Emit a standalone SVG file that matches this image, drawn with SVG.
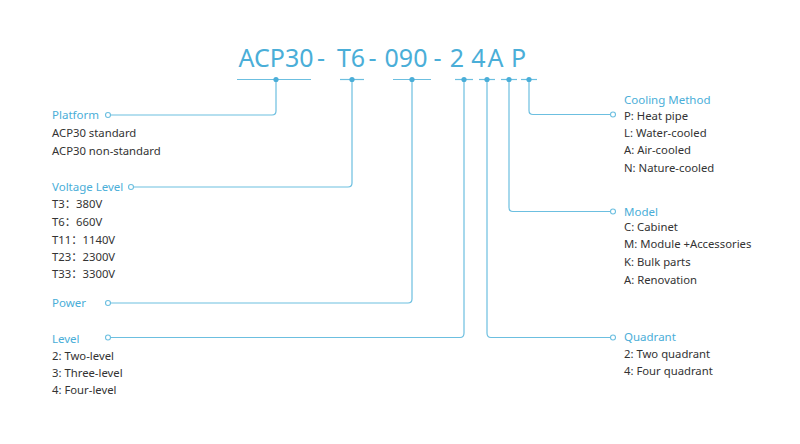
<svg xmlns="http://www.w3.org/2000/svg" width="800" height="444" viewBox="0 0 800 444">
<style>
.title{font-family:"Noto Sans","Open Sans",sans-serif;font-size:25px;fill:#4aaed8;text-anchor:middle}
.h{font-family:"Noto Sans","Open Sans",sans-serif;font-size:11.5px;fill:#4aaed8}
.t{font-family:"Noto Sans","Noto Sans CJK SC",sans-serif;font-size:11.3px;fill:#333333}
.ln{fill:none;stroke:#6cbfe0;stroke-width:1.2}
.ul{stroke:#6cbfe0;stroke-width:1.2}
.dot{fill:#4aaed8}
.ring{fill:#ffffff;stroke:#6cbfe0;stroke-width:1.1}
</style>
<rect width="800" height="444" fill="#ffffff"/>
<g id="code">
<text class="title" x="276" y="67">ACP30</text>
<text class="title" x="321" y="67">-</text>
<text class="title" x="351" y="67">T6</text>
<text class="title" x="372.5" y="67">-</text>
<text class="title" x="406" y="67">090</text>
<text class="title" x="437.5" y="67">-</text>
<text class="title" x="457" y="67">2</text>
<text class="title" x="478.5" y="67">4</text>
<text class="title" x="495.5" y="67">A</text>
<text class="title" x="518.5" y="67">P</text>
<line class="ul" x1="237" y1="79.5" x2="311" y2="79.5"/>
<line class="ul" x1="340" y1="79.5" x2="364" y2="79.5"/>
<line class="ul" x1="393" y1="79.5" x2="431" y2="79.5"/>
<line class="ul" x1="455" y1="79.5" x2="473" y2="79.5"/>
<line class="ul" x1="479" y1="79.5" x2="495" y2="79.5"/>
<line class="ul" x1="501" y1="79.5" x2="517" y2="79.5"/>
<line class="ul" x1="521" y1="79.5" x2="537" y2="79.5"/>
</g>
<g id="connectors">
<path class="ln" d="M276 79.5 V111 Q276 115 272 115 H110.5"/>
<path class="ln" d="M352 79.5 V183 Q352 187 348 187 H133.5"/>
<path class="ln" d="M412 79.5 V299 Q412 303 408 303 H110.5"/>
<path class="ln" d="M464 79.5 V333 Q464 337.5 460 337.5 H110.5"/>
<path class="ln" d="M487 79.5 V333 Q487 337.5 491 337.5 H610.5"/>
<path class="ln" d="M509 79.5 V207.5 Q509 211.5 513 211.5 H610.5"/>
<path class="ln" d="M529 79.5 V110.5 Q529 114.5 533 114.5 H610.5"/>
<circle class="dot" cx="276" cy="79.5" r="2.6"/>
<circle class="dot" cx="352" cy="79.5" r="2.6"/>
<circle class="dot" cx="412" cy="79.5" r="2.6"/>
<circle class="dot" cx="464" cy="79.5" r="2.6"/>
<circle class="dot" cx="487" cy="79.5" r="2.6"/>
<circle class="dot" cx="509" cy="79.5" r="2.6"/>
<circle class="dot" cx="529" cy="79.5" r="2.6"/>
</g>
<g id="platform">
<circle class="ring" cx="108" cy="115" r="2.5"/>
<text class="h" x="52" y="119">Platform</text>
<text class="t" x="52" y="137">ACP30 standard</text>
<text class="t" x="52" y="155">ACP30 non-standard</text>
</g>
<g id="voltage">
<circle class="ring" cx="131" cy="187" r="2.5"/>
<text class="h" x="52" y="191">Voltage Level</text>
<text class="t" x="52" y="208">T3：380V</text>
<text class="t" x="52" y="226">T6：660V</text>
<text class="t" x="52" y="244">T11：1140V</text>
<text class="t" x="52" y="261">T23：2300V</text>
<text class="t" x="52" y="278">T33：3300V</text>
</g>
<g id="power">
<circle class="ring" cx="108" cy="303" r="2.5"/>
<text class="h" x="52" y="307">Power</text>
</g>
<g id="level">
<circle class="ring" cx="108" cy="337.5" r="2.5"/>
<text class="h" x="52" y="343">Level</text>
<text class="t" x="52" y="360">2: Two-level</text>
<text class="t" x="52" y="377">3: Three-level</text>
<text class="t" x="52" y="394">4: Four-level</text>
</g>
<g id="cooling">
<circle class="ring" cx="613" cy="114.5" r="2.5"/>
<text class="h" x="624" y="104">Cooling Method</text>
<text class="t" x="624" y="120">P: Heat pipe</text>
<text class="t" x="624" y="137">L: Water-cooled</text>
<text class="t" x="624" y="154">A: Air-cooled</text>
<text class="t" x="624" y="172">N: Nature-cooled</text>
</g>
<g id="model">
<circle class="ring" cx="613" cy="211.5" r="2.5"/>
<text class="h" x="624" y="216">Model</text>
<text class="t" x="624" y="231">C: Cabinet</text>
<text class="t" x="624" y="248">M: Module +Accessories</text>
<text class="t" x="624" y="266">K: Bulk parts</text>
<text class="t" x="624" y="284">A: Renovation</text>
</g>
<g id="quadrant">
<circle class="ring" cx="613" cy="337.5" r="2.5"/>
<text class="h" x="624" y="341">Quadrant</text>
<text class="t" x="624" y="358">2: Two quadrant</text>
<text class="t" x="624" y="375">4: Four quadrant</text>
</g>
</svg>
